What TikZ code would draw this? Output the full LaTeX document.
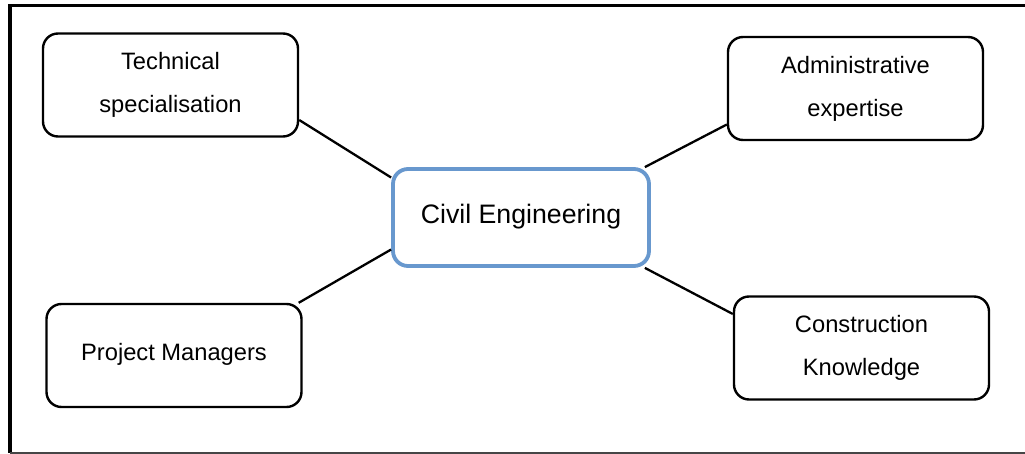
\documentclass[tikz,border=0pt]{standalone}
\usepackage{fontspec}
\setmainfont{Liberation Sans}
\definecolor{hubblue}{RGB}{104,152,206}
\definecolor{framegrey}{RGB}{70,70,70}
\tikzset{
  topic/.style={draw=black, line width=2.4pt, rounded corners=15pt,
    minimum width=255pt, minimum height=103pt, align=center,
    font=\fontsize{23.7}{43}\selectfont, inner sep=0pt},
  hub/.style={draw=hubblue, line width=3.8pt, rounded corners=15pt,
    minimum width=256pt, minimum height=97pt, align=center,
    font=\fontsize{26.7}{32}\selectfont, inner sep=0pt},
  link/.style={draw=black, line width=2.3pt}
}
\begin{document}
\begin{tikzpicture}[x=1pt, y=-1pt]
\useasboundingbox (0,0) rectangle (1025,454);
% page frame: heavy top and left rules, thin bottom rule
\draw[line width=3.5pt] (1025,5.5) -- (10,5.5) -- (10,453);
\draw[framegrey, line width=1.5pt] (10,453) -- (1025,453);

% central topic
\node[hub] (civil) at (521,217.5) {\raisebox{7pt}{Civil Engineering}};

% surrounding topics
\node[topic] (tech) at (170.5,85) {Technical\\specialisation};
\node[topic] (admin) at (855.5,88.5) {Administrative\\expertise};
\node[topic] (pm) at (174,355.5) {\raisebox{7pt}{Project Managers}};
\node[topic] (cons) at (861.5,348) {Construction\\Knowledge};

% connectors
\draw[link] ([yshift=-35pt]tech.east) -- ([yshift=40pt]civil.west);
\draw[link] ([yshift=-36pt]admin.west) -- ([xshift=-6pt]civil.north east);
\draw[link] ([xshift=-4pt]pm.north east) -- ([yshift=-32pt]civil.west);
\draw[link] ([xshift=-6pt]civil.south east) -- ([yshift=34pt]cons.west);
\end{tikzpicture}
\end{document}
